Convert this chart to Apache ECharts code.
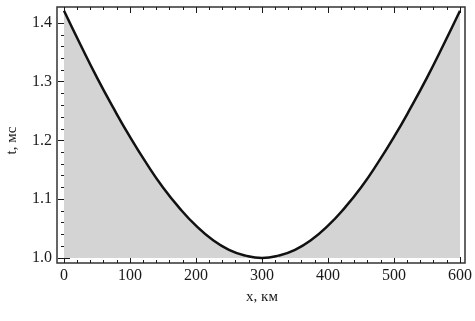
<!DOCTYPE html>
<html>
<head>
<meta charset="utf-8">
<script src="https://cdn.jsdelivr.net/npm/echarts@6/dist/echarts.min.js"></script>
<style>
  html, body { margin: 0; padding: 0; background: #fff; }
  #chart { width: 475px; height: 321px; }
</style>
</head>
<body>
<div id="chart"></div>
<script>
// x, км
var xKm = [0, 25, 50, 75, 100, 125, 150, 175, 200, 225, 250, 275, 300,
  325, 350, 375, 400, 425, 450, 475, 500, 525, 550, 575, 600];
// t, мс
var tMs = [1.421, 1.363, 1.307, 1.255, 1.206, 1.161, 1.120, 1.085, 1.055, 1.031, 1.014, 1.004, 1.000,
  1.004, 1.014, 1.031, 1.055, 1.085, 1.120, 1.161, 1.206, 1.255, 1.307, 1.363, 1.421];

var xName = 'x, км';
var yName = 't, мс';

var font = 'Liberation Serif';
var ink = '#1a1a1a';

var points = xKm.map(function (x, i) { return [x, tMs[i]]; });

var chart = echarts.init(document.getElementById('chart'));

var tickAxis = {
  type: 'value',
  gridIndex: 1,
  axisLine: { show: false },
  axisTick: { show: true, inside: true, length: 6, lineStyle: { color: ink, width: 1 } },
  minorTick: { show: true, splitNumber: 5, length: 3, lineStyle: { color: ink, width: 1 } },
  splitLine: { show: false },
  minorSplitLine: { show: false }
};

var option = {
  animation: false,
  backgroundColor: '#fff',
  grid: [
    // frame
    { left: 57, right: 10, top: 7, bottom: 58, outerBoundsMode: 'none', show: true, borderColor: '#333', borderWidth: 1.5, backgroundColor: 'transparent' },
    // data area
    { left: 64, right: 15, top: 23, bottom: 63, outerBoundsMode: 'none' }
  ],
  xAxis: [
    { type: 'value', gridIndex: 0, show: false, min: 0, max: 1 },
    Object.assign({}, tickAxis, {
      position: 'bottom', offset: 5, min: 0, max: 600, interval: 100,
      name: xName, nameLocation: 'middle', nameGap: 27,
      nameTextStyle: { fontFamily: font, fontSize: 15, color: ink },
      axisLabel: { fontFamily: font, fontSize: 16, color: ink, margin: 5 }
    }),
    Object.assign({}, tickAxis, {
      position: 'top', offset: 16, min: 0, max: 600, interval: 100,
      axisLabel: { show: false }
    })
  ],
  yAxis: [
    { type: 'value', gridIndex: 0, show: false, min: 0, max: 1 },
    Object.assign({}, tickAxis, {
      position: 'left', offset: 7, min: 1.0, max: 1.4, interval: 0.1,
      name: yName, nameLocation: 'middle', nameGap: 37,
      nameTextStyle: { fontFamily: font, fontSize: 15, color: ink },
      axisLabel: {
        fontFamily: font, fontSize: 16, color: ink, margin: 5,
        formatter: function (v) { return v.toFixed(1); }
      }
    }),
    Object.assign({}, tickAxis, {
      position: 'right', offset: 5, min: 1.0, max: 1.4, interval: 0.1,
      axisLabel: { show: false }
    })
  ],
  series: [
    {
      type: 'line',
      xAxisIndex: 1,
      yAxisIndex: 1,
      data: points,
      smooth: true,
      clip: false,
      showSymbol: false,
      lineStyle: { color: '#111', width: 2.5 },
      areaStyle: { color: '#d4d4d4', opacity: 1, origin: 'start' }
    }
  ]
};

chart.setOption(option);
</script>
</body>
</html>
